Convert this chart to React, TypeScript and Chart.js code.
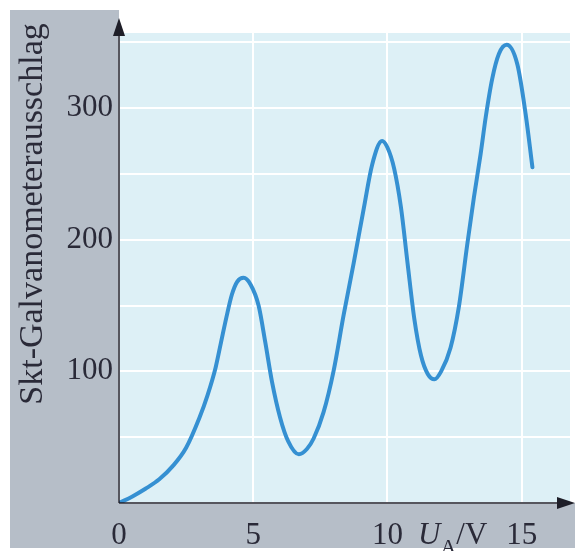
import React, { useEffect, useRef } from "react";
import { Chart, registerables } from "chart.js";

Chart.register(...registerables);

// Anodenspannung U_A in V
const voltage = [0, 0.5, 1.0, 1.5, 2.0, 2.5, 3.0, 3.3, 3.6, 3.8, 4.0, 4.2, 4.4, 4.64, 4.9, 5.2, 5.45, 5.7, 6.0, 6.3, 6.7, 7.0, 7.25, 7.62, 8.0, 8.37, 8.74, 9.12, 9.43, 9.8, 10.0, 10.25, 10.5, 10.75, 11.0, 11.25, 11.5, 11.75, 12.0, 12.35, 12.66, 12.97, 13.22, 13.47, 13.66, 13.9, 14.15, 14.44, 14.84, 15.15, 15.4];
// Skt-Galvanometerausschlag
const deflection = [0, 5, 11, 18, 28, 42, 65, 82, 103, 122, 141, 158, 168, 171, 166, 150, 122, 92, 65, 47, 37, 41, 49, 69, 101, 143, 182, 224, 257, 275, 270, 254, 225, 182, 140, 112, 98, 94, 100, 118, 149, 196, 232, 265, 293, 322, 341, 348, 333, 295, 255];

const xTicks = [0, 5, 10, 15];
const yGrid = [0, 50, 100, 150, 200, 250, 300, 350];
const yLabels = [100, 200, 300];
const yTitle = "Skt-Galvanometerausschlag";

const X_MAX = 16.8;
const Y_MAX = 357;

const SERIF = '"Liberation Serif", "DejaVu Serif", serif';
const TEXT = "#2a2a38";
const GREY = "#b6bec8";
const PLOT_BG = "#ddf0f6";
const LINE = "#3590d2";

const decorPlugin = {
  id: "decor",
  beforeDraw(chart: any) {
    const { ctx, chartArea } = chart;
    const W = chart.width;
    ctx.save();
    ctx.fillStyle = "#ffffff";
    ctx.fillRect(0, 0, W, chart.height);
    ctx.fillStyle = GREY;
    ctx.fillRect(10, 10, chartArea.left - 10, 538);
    ctx.fillRect(10, chartArea.bottom, W - 10, 548 - chartArea.bottom);
    ctx.fillStyle = PLOT_BG;
    ctx.fillRect(chartArea.left, chartArea.top, chartArea.right - chartArea.left, chartArea.bottom - chartArea.top);
    ctx.restore();
  },
  afterDraw(chart: any) {
    const { ctx, scales } = chart;
    const x0 = scales.x.getPixelForValue(0);
    const y0 = scales.y.getPixelForValue(0);
    ctx.save();
    ctx.strokeStyle = "#1e1e28";
    ctx.fillStyle = "#1e1e28";
    ctx.lineWidth = 1.5;
    // y axis
    ctx.beginPath();
    ctx.moveTo(x0, y0);
    ctx.lineTo(x0, 30);
    ctx.stroke();
    ctx.beginPath();
    ctx.moveTo(x0, 18);
    ctx.lineTo(x0 - 6, 36);
    ctx.lineTo(x0 + 6, 36);
    ctx.closePath();
    ctx.fill();
    // x axis
    ctx.beginPath();
    ctx.moveTo(x0, y0);
    ctx.lineTo(565, y0);
    ctx.stroke();
    ctx.beginPath();
    ctx.moveTo(575, y0);
    ctx.lineTo(557, y0 - 6);
    ctx.lineTo(557, y0 + 6);
    ctx.closePath();
    ctx.fill();

    // y title
    ctx.fillStyle = TEXT;
    ctx.font = `34px ${SERIF}`;
    ctx.textAlign = "center";
    ctx.textBaseline = "alphabetic";
    ctx.save();
    ctx.translate(42, 214);
    ctx.rotate(-Math.PI / 2);
    ctx.fillText(yTitle, 0, 0);
    ctx.restore();

    // x title U_A/V
    const base = 544;
    let x = 418;
    ctx.textAlign = "left";
    ctx.font = `italic 31px ${SERIF}`;
    ctx.fillText("U", x, base);
    x += ctx.measureText("U").width;
    ctx.font = `22px ${SERIF}`;
    ctx.fillText("A", x, base + 10);
    x += ctx.measureText("A").width;
    ctx.font = `31px ${SERIF}`;
    ctx.fillText("/V", x, base);
    ctx.restore();
  },
};

export default function App() {
  const ref = useRef<HTMLCanvasElement>(null);
  useEffect(() => {
    if (!ref.current) return;
    const chart = new Chart(ref.current, {
      type: "line",
      data: {
        datasets: [
          {
            data: voltage.map((v, i) => ({ x: v, y: deflection[i] })),
            borderColor: LINE,
            borderWidth: 4,
            pointRadius: 0,
            cubicInterpolationMode: "monotone",
            borderCapStyle: "round",
            borderJoinStyle: "round",
            fill: false,
          },
        ],
      },
      options: {
        animation: false,
        responsive: false,
        maintainAspectRatio: false,
        layout: { padding: { left: 0, top: 33, right: 5, bottom: 0 } },
        plugins: { legend: { display: false }, tooltip: { enabled: false } },
        scales: {
          x: {
            type: "linear",
            min: 0,
            max: X_MAX,
            afterBuildTicks: (s: any) => {
              s.ticks = xTicks.map((v) => ({ value: v }));
            },
            afterFit: (s: any) => {
              s.height = 48;
            },
            grid: { color: "#ffffff", lineWidth: 2, drawTicks: false },
            border: { display: false },
            ticks: {
              padding: 14,
              color: TEXT,
              font: { family: SERIF, size: 31 },
              maxRotation: 0,
              callback: (v: any) => String(v),
            },
          },
          y: {
            type: "linear",
            min: 0,
            max: Y_MAX,
            afterBuildTicks: (s: any) => {
              s.ticks = yGrid.map((v) => ({ value: v }));
            },
            afterFit: (s: any) => {
              s.width = 119;
            },
            grid: { color: "#ffffff", lineWidth: 2, drawTicks: false },
            border: { display: false },
            ticks: {
              padding: 6,
              color: TEXT,
              font: { family: SERIF, size: 31 },
              callback: (v: any) => (yLabels.includes(v) ? String(v) : ""),
            },
          },
        },
      },
      plugins: [decorPlugin],
    });
    return () => chart.destroy();
  }, []);
  return (
    <div style={{ position: "absolute", left: 0, top: 0, width: 575, height: 551 }}>
      <canvas ref={ref} width={575} height={551} style={{ width: 575, height: 551 }} />
    </div>
  );
}
